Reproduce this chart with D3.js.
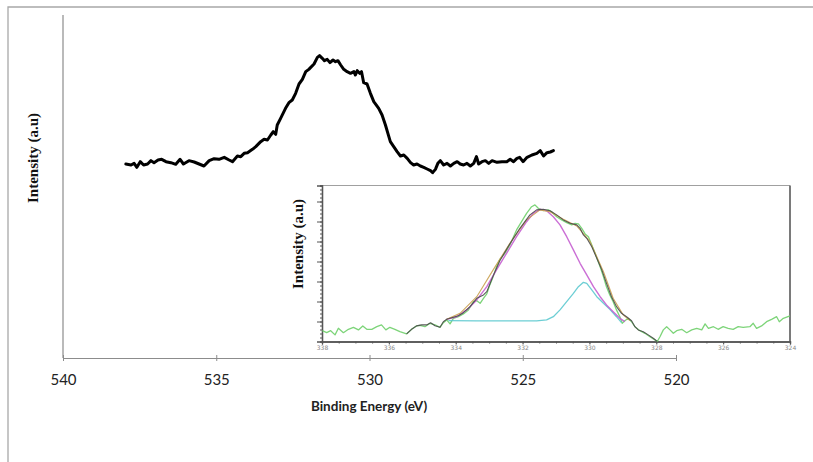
<!DOCTYPE html>
<html>
<head>
<meta charset="utf-8">
<script src="https://cdnjs.cloudflare.com/ajax/libs/d3/7.8.5/d3.min.js"></script>
<style>
  body { margin: 0; background: #fff; }
  svg { display: block; }
</style>
</head>
<body>
<svg id="chart" width="813" height="462"></svg>
<script>
"use strict";

// main O1s spectrum: [binding energy (eV), intensity (a.u)]
const mainSpectrum = [
  [537.95,58.2],[537.78,57.9],[537.68,58.4],[537.59,57.2],[537.48,58.9],[537.37,57.9],[537.24,58.2],[537.13,59.2],
  [537.03,58.6],[536.90,59.4],[536.78,59.6],[536.64,58.9],[536.48,58.6],[536.32,58.1],[536.18,59.6],[536.07,58.2],
  [535.89,59.2],[535.72,58.8],[535.56,58.2],[535.40,57.6],[535.23,59.2],[535.07,59.8],[534.91,59.6],[534.74,60.2],
  [534.58,59.4],[534.47,58.9],[534.31,60.6],[534.20,60.4],[534.09,61.4],[533.98,61.6],[533.82,62.6],[533.71,63.4],
  [533.55,64.9],[533.44,65.6],[533.33,65.4],[533.22,66.9],[533.14,67.9],[533.06,67.1],[533.01,69.9],[532.90,71.9],
  [532.74,74.9],[532.63,76.6],[532.52,77.4],[532.41,79.4],[532.30,82.2],[532.19,83.6],[532.08,85.9],[531.98,86.6],
  [531.81,88.2],[531.70,90.2],[531.63,90.7],[531.54,89.9],[531.47,89.2],[531.38,89.6],[531.29,88.6],[531.19,89.4],
  [531.11,88.9],[531.03,89.2],[530.94,87.9],[530.84,86.6],[530.73,85.9],[530.62,85.4],[530.51,85.9],[530.46,84.9],
  [530.40,86.2],[530.32,85.4],[530.26,85.9],[530.19,82.6],[530.08,82.2],[529.97,79.4],[529.86,76.9],[529.70,74.9],
  [529.59,72.9],[529.48,69.9],[529.40,67.4],[529.32,64.9],[529.21,63.4],[529.10,61.9],[528.99,60.6],[528.88,60.9],
  [528.77,59.9],[528.66,58.6],[528.56,57.9],[528.45,58.2],[528.34,57.6],[528.23,57.2],[528.12,56.7],[528.01,56.2],
  [527.94,55.6],[527.85,56.6],[527.77,58.4],[527.69,59.2],[527.58,57.9],[527.47,58.4],[527.36,57.6],[527.25,58.4],
  [527.14,58.9],[527.04,58.2],[526.93,57.9],[526.82,58.4],[526.71,57.6],[526.60,58.4],[526.51,60.4],[526.44,58.2],
  [526.33,58.9],[526.22,59.2],[526.11,58.4],[526.00,59.2],[525.84,58.7],[525.68,58.9],[525.52,58.9],[525.41,59.6],
  [525.30,58.9],[525.19,59.9],[525.10,60.2],[524.99,58.9],[524.86,60.2],[524.70,60.9],[524.54,61.4],[524.43,62.2],
  [524.32,60.6],[524.21,61.6],[524.10,61.8],[524.00,62.2]
];
const mainTicks = [540, 535, 530, 525, 520];

// inset (peak fitting) curves: [binding energy (eV), intensity (a.u)]
const insetRaw = [
  [337.99,0.54],[337.86,0.44],[337.74,0.54],[337.61,0.33],[337.51,0.66],[337.36,0.44],[337.21,0.61],[337.06,0.71],
  [336.91,0.58],[336.78,0.78],[336.66,0.61],[336.51,0.61],[336.36,0.74],[336.22,0.83],[336.09,0.58],[335.97,0.71],
  [335.82,0.61],[335.67,0.49],[335.47,0.38],[335.32,0.61],[335.17,0.78],[335.07,0.81],[334.92,0.74],[334.77,0.91],
  [334.62,0.83],[334.47,0.71],[334.37,0.94],[334.27,1.08],[334.17,0.88],[334.07,1.16],[333.92,1.24],[333.77,1.38],
  [333.62,1.58],[333.47,1.99],[333.37,2.04],[333.27,1.91],[333.17,2.16],[333.07,2.38],[332.98,2.83],[332.88,3.24],
  [332.78,3.74],[332.68,4.11],[332.53,4.41],[332.38,4.83],[332.18,5.58],[332.03,5.99],[331.88,6.41],[331.73,6.74],
  [331.63,6.83],[331.53,6.66],[331.38,6.54],[331.23,6.58],[331.13,6.49],[330.98,6.24],[330.83,6.08],[330.68,5.94],
  [330.53,5.83],[330.43,5.91],[330.33,5.88],[330.23,5.66],[330.13,5.38],[330.03,5.24],[329.93,4.83],[329.83,4.41],
  [329.68,3.74],[329.58,3.24],[329.49,2.74],[329.39,2.33],[329.29,1.99],[329.19,1.58],[329.09,1.24],[329.02,0.91],
  [328.94,1.04],[328.84,1.16],[328.74,0.99],[328.64,0.74],[328.49,0.54],[328.34,0.41],[328.19,0.24],[328.04,0.08],
  [327.97,0.00],[327.89,0.24],[327.79,0.58],[327.69,0.74],[327.59,0.58],[327.49,0.41],[327.39,0.54],[327.24,0.61],
  [327.09,0.44],[326.94,0.58],[326.79,0.66],[326.64,0.58],[326.54,0.88],[326.44,0.66],[326.29,0.74],[326.15,0.61],
  [326.00,0.74],[325.85,0.66],[325.70,0.61],[325.55,0.74],[325.40,0.71],[325.20,0.74],[325.10,0.91],[325.00,0.66],
  [324.85,0.78],[324.70,0.99],[324.55,1.11],[324.40,1.24],[324.32,0.99],[324.20,1.16],[324.00,1.28]
];
const insetData = [
  [335.47,0.38],[335.32,0.61],[335.17,0.78],[335.02,0.83],[334.87,0.83],[334.75,0.94],[334.62,0.79],[334.47,0.71],
  [334.37,0.99],[334.27,1.11],[334.12,1.19],[333.92,1.29],[333.77,1.44],[333.57,1.74],[333.37,2.16],[333.17,2.33],
  [333.07,2.49],[332.88,3.28],[332.68,4.04],[332.38,4.88],[332.08,5.66],[331.78,6.33],[331.58,6.58],[331.38,6.61],
  [331.18,6.54],[330.98,6.33],[330.78,6.08],[330.58,5.91],[330.38,5.83],[330.28,5.66],[330.18,5.33],[330.08,5.16],
  [329.93,4.74],[329.78,4.16],[329.63,3.58],[329.49,2.91],[329.34,2.24],[329.19,1.74],[329.04,1.41],[328.89,1.24],
  [328.74,1.04],[328.64,0.74],[328.54,0.58],[328.39,0.49],[328.24,0.33],[328.09,0.16],[327.97,0.00]
];
const insetEnvelope = [
  [334.27,1.11],[333.87,1.41],[333.37,2.24],[332.88,3.58],[332.38,4.91],[331.88,6.08],[331.48,6.58],[331.18,6.49],
  [330.78,6.11],[330.38,5.78],[329.98,4.99],[329.58,3.49],[329.29,2.16],[328.99,1.33],[328.79,1.04]
];
const insetPeak1 = [
  [334.27,1.11],[333.97,1.24],[333.67,1.58],[333.37,2.08],[333.07,2.74],[332.78,3.58],[332.48,4.41],[332.18,5.24],
  [331.88,5.99],[331.68,6.41],[331.48,6.61],[331.28,6.54],[331.08,6.24],[330.88,5.83],[330.68,5.24],[330.48,4.58],
  [330.28,3.91],[330.08,3.33],[329.88,2.74],[329.68,2.24],[329.49,1.83],[329.29,1.49],[329.09,1.16],[328.94,0.99]
];
const insetPeak2 = [
  [334.22,1.04],[333.37,1.03],[332.38,1.03],[331.58,1.03],[331.28,1.08],[331.08,1.24],[330.88,1.58],[330.68,1.99],
  [330.48,2.41],[330.33,2.74],[330.18,2.96],[330.08,2.91],[329.93,2.58],[329.78,2.24],[329.58,1.91],[329.39,1.61],
  [329.19,1.24],[329.04,0.94]
];
const insetTicks = [338, 336, 334, 332, 330, 328, 326, 324];

const svg = d3.select("#chart");

// outer frame
svg.append("path").attr("d", "M8,462 V7 H813")
  .style("fill", "none").style("stroke", "#a8a8a8").style("stroke-width", 1.3);

// ---------- main chart ----------
const x = d3.scaleLinear().domain([540, 520]).range([63, 676]);
const y = d3.scaleLinear().domain([0, 100.5]).range([358, 23]);

svg.append("line").attr("x1", 63).attr("x2", 63).attr("y1", 15).attr("y2", y.range()[0])
  .style("stroke", "#8c8c8c").style("stroke-width", 1.2);

let xAxis = d3.axisBottom(x).tickValues(mainTicks).tickSizeInner(3).tickSizeOuter(0)
  .tickPadding(13).tickFormat(d3.format("d"));
let gx = svg.append("g").attr("transform", `translate(0,${y(0)})`).call(xAxis);
gx.select(".domain").style("stroke", "#8c8c8c").style("stroke-width", 1.2);
gx.selectAll(".tick line").attr("y1", -3).style("stroke", "#8c8c8c");
gx.selectAll(".tick text")
  .style("font-family", "Lato, 'Open Sans', sans-serif").style("font-size", "15px").style("fill", "#222");

svg.append("text")
  .attr("x", 369).attr("y", 411)
  .attr("text-anchor", "middle")
  .style("font-family", "Lato, 'Open Sans', sans-serif").style("font-weight", "bold")
  .style("font-size", "13.5px").style("fill", "#222")
  .text("Binding Energy (eV)");

svg.append("text")
  .attr("transform", "translate(38,158) rotate(-90)")
  .attr("text-anchor", "middle")
  .style("font-family", "'Liberation Serif', 'Times New Roman', serif").style("font-weight", "bold")
  .style("font-size", "15px").style("fill", "#111")
  .text("Intensity (a.u)");

let mainLine = d3.line().x(d => x(d[0])).y(d => y(d[1]));
svg.append("path").datum(mainSpectrum).attr("d", mainLine)
  .style("fill", "none").style("stroke", "#000").style("stroke-width", 3)
  .style("stroke-linejoin", "round").style("stroke-linecap", "round");

// ---------- inset ----------
const ix = d3.scaleLinear().domain([338, 324]).range([322, 790]);
const iy = d3.scaleLinear().domain([0, 7.8]).range([341.5, 185.5]);
const inset = svg.append("g").classed("inset", true);

inset.append("rect").attr("x", ix.range()[0]).attr("y", iy.range()[1])
  .attr("width", ix.range()[1] - ix.range()[0]).attr("height", iy.range()[0] - iy.range()[1])
  .style("fill", "#fff").style("stroke", "none");
inset.append("line").attr("x1", ix.range()[0]).attr("x2", ix.range()[1]).attr("y1", iy.range()[1]).attr("y2", iy.range()[1])
  .style("stroke", "#a0a0a0").style("stroke-width", 1.2);
inset.append("line").attr("x1", ix.range()[1]).attr("x2", ix.range()[1]).attr("y1", iy.range()[1]).attr("y2", iy.range()[0])
  .style("stroke", "#7a7a7a").style("stroke-width", 2);

// y axis: majors every 1, minors every 0.2
let iyMinor = d3.axisLeft(iy).tickValues(d3.range(0, 7.81, 0.2)).tickSize(2).tickFormat("");
let gyMinor = inset.append("g").attr("transform", `translate(${ix.range()[0]},0)`).call(iyMinor);
let iyAxis = d3.axisLeft(iy).tickValues([1, 2, 3, 4, 5, 6, 7]).tickSize(5).tickFormat("");
let gy = inset.append("g").attr("transform", `translate(${ix.range()[0]},0)`).call(iyAxis);
[gyMinor, gy].forEach(g => {
  g.select(".domain").style("stroke", "#555").style("stroke-width", 1.3);
  g.selectAll(".tick line").style("stroke", "#555");
});

// x axis: labels every 2 eV, minor ticks every 0.5 eV
let ixMinor = d3.axisBottom(ix).tickValues(d3.range(324, 338.01, 0.5)).tickSize(2).tickFormat("");
let gxiMinor = inset.append("g").attr("transform", `translate(0,${iy(0)})`).call(ixMinor);
let ixAxis = d3.axisBottom(ix).tickValues(insetTicks).tickSize(3).tickPadding(1).tickFormat(d3.format("d"));
let gxi = inset.append("g").attr("transform", `translate(0,${iy(0)})`).call(ixAxis);
[gxiMinor, gxi].forEach(g => {
  g.select(".domain").style("stroke", "#555").style("stroke-width", 1.3);
  g.selectAll(".tick line").style("stroke", "#555");
});
gxi.selectAll(".tick text").style("font-family", "'DejaVu Sans', sans-serif")
  .style("font-size", "6px").style("fill", "#888");

inset.append("text")
  .attr("transform", "translate(303,244) rotate(-90)")
  .attr("text-anchor", "middle")
  .style("font-family", "'Liberation Serif', 'Times New Roman', serif").style("font-weight", "bold")
  .style("font-size", "15px").style("fill", "#111")
  .text("Intensity (a.u)");

let insetLine = d3.line().x(d => ix(d[0])).y(d => iy(d[1]));
const insetSeries = [
  { data: insetRaw, color: "#6fcf6a", width: 1.3 },
  { data: insetPeak2, color: "#5cc9cf", width: 1.3 },
  { data: insetPeak1, color: "#c55fd0", width: 1.4 },
  { data: insetEnvelope, color: "#c9a04e", width: 1.1 },
  { data: insetData, color: "#4a4a4a", width: 1.1 }
];
insetSeries.forEach(s => {
  inset.append("path").datum(s.data).attr("d", insetLine)
    .style("fill", "none").style("stroke", s.color).style("stroke-width", s.width)
    .style("stroke-linejoin", "round").style("opacity", 0.9);
});
</script>
</body>
</html>
